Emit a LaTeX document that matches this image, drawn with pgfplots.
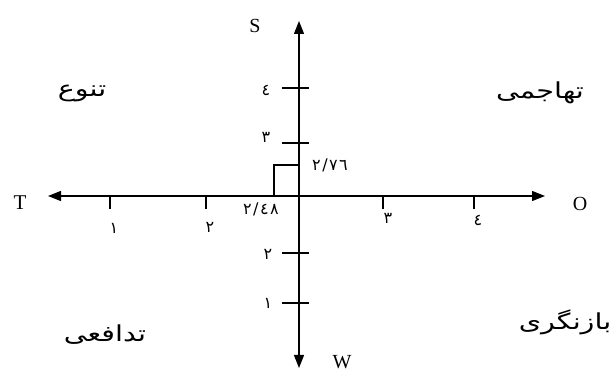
\documentclass[border=0pt]{standalone}
\usepackage{fontspec}
\setmainfont{Liberation Serif}
\newfontfamily\arabicfont[Script=Arabic]{DejaVu Sans}
\newfontfamily\arabicwide[Script=Arabic,FakeStretch=1.3]{DejaVu Sans}
\TeXXeTstate=1
\usepackage{pgfplots}
\pgfplotsset{compat=1.18}
\usetikzlibrary{arrows.meta}

\newcommand{\dg}{\arabicfont\fontsize{16}{16}\selectfont}
\newcommand{\dgap}{\kern1.5pt}

\begin{document}
\begin{tikzpicture}
\begin{axis}[
  name=swot,
  scale only axis,
  width=612pt, height=374pt,
  xmin=-299, xmax=313, ymin=-178, ymax=196,
  axis lines=none,
  clip=false,
]
% axes (schematic, offsets from the origin)
\addplot[black, line width=1.3pt, {Triangle[length=13pt,width=10pt]}-{Triangle[length=13pt,width=10pt]}]
  coordinates {(-251,0) (246,0)};
\addplot[black, line width=1.3pt, {Triangle[length=13pt,width=10pt]}-{Triangle[length=13pt,width=10pt]}]
  coordinates {(0,-172) (0,175)};

% ticks on the O--T axis
\addplot[black, line width=1.3pt] coordinates {(-189,0) (-189,-13)};
\addplot[black, line width=1.3pt] coordinates {(-93,0) (-93,-13)};
\addplot[black, line width=1.3pt] coordinates {(84,0) (84,-13)};
\addplot[black, line width=1.3pt] coordinates {(175,0) (175,-13)};
% ticks on the S--W axis
\addplot[black, line width=1.3pt] coordinates {(-17,108) (10,108)};
\addplot[black, line width=1.3pt] coordinates {(-17,53) (10,53)};
\addplot[black, line width=1.3pt] coordinates {(-17,-57) (10,-57)};
\addplot[black, line width=1.3pt] coordinates {(-17,-107) (10,-107)};

% position (2.48, 2.76)
\addplot[black, line width=1.3pt] coordinates {(-25,0) (-25,31) (0,31)};

% axis names
\node[font=\fontsize{20}{20}\selectfont] at (axis cs:-44,170) {S};
\node[font=\fontsize{21}{21}\selectfont] at (axis cs:-279,-7) {T};
\node[font=\fontsize{20}{20}\selectfont] at (axis cs:281,-8) {O};
\node[font=\fontsize{20}{20}\selectfont] at (axis cs:43,-166) {W};

% tick labels
\node[font=\dg] at (axis cs:-33,106) {٤};
\node[font=\dg] at (axis cs:-33,59) {٣};
\node[font=\dg] at (axis cs:-31,-58) {٢};
\node[font=\dg] at (axis cs:-31,-107) {١};
\node[font=\dg] at (axis cs:-185,-32) {١};
\node[font=\dg] at (axis cs:-89,-31) {٢};
\node[font=\dg] at (axis cs:89,-22) {٣};
\node[font=\dg] at (axis cs:179,-24) {٤};
\node[font=\dg] at (axis cs:31,31) {٢\dgap/\dgap٧\dgap٦};
\node[font=\dg] at (axis cs:-38,-13) {٢\dgap/\dgap٤\dgap٨};

% strategy quadrants
\node[font=\arabicwide\fontsize{22}{22}\selectfont] at (axis cs:-217,103) {\beginR تنوع\endR};
\node[font=\arabicwide\fontsize{22}{22}\selectfont] at (axis cs:241,103) {\beginR تهاجمی\endR};
\node[font=\arabicwide\fontsize{22}{22}\selectfont] at (axis cs:-194,-139) {\beginR تدافعی\endR};
\node[font=\arabicwide\fontsize{22}{22}\selectfont] at (axis cs:266,-126) {\beginR بازنگری\endR};
\end{axis}
\pgfresetboundingbox
\path (swot.south west) rectangle (swot.north east);
\end{tikzpicture}
\end{document}
